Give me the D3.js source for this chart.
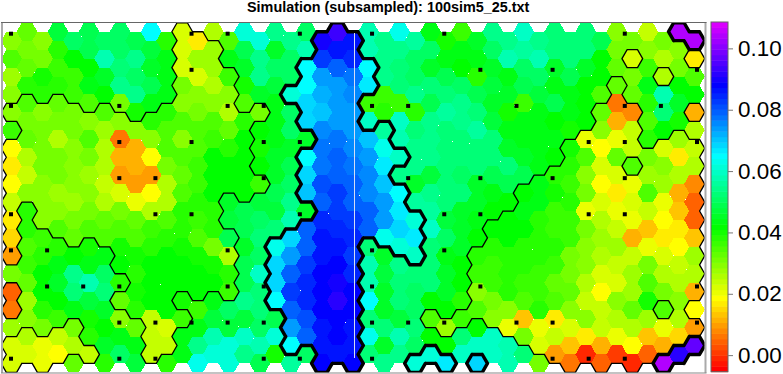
<!DOCTYPE html>
<html>
<head>
<meta charset="utf-8">
<script src="https://cdn.jsdelivr.net/npm/d3@7"></script>
<style>
html, body { margin: 0; padding: 0; background: #fff; overflow: hidden; }
svg { display: block; font-family: "Liberation Sans", Arial, sans-serif; }
</style>
</head>
<body>
<div id="chart"></div>
<script>
const title = 'Simulation (subsampled): 100sim5_25.txt';

// cell values x 1000, one array per hex row, 45 columns
const row00 = [30,33,30,48,50,49,50,51,49,65,38,22,16,26,35,61,62,55,54,50,90,93,86,58,54,63,56,44,40,36,45,54,54,59,54,53,52,52,49,29,31,24,31,104,104];
const row01 = [34,31,31,38,41,49,57,51,54,48,43,22,27,28,43,49,55,46,50,57,82,87,84,58,54,54,50,50,44,44,44,50,57,56,58,53,53,53,42,32,23,30,26,30,17];
const row02 = [27,33,40,37,36,42,46,52,51,46,44,22,23,27,36,46,54,50,50,65,74,80,78,65,54,53,50,46,49,41,39,45,43,50,50,46,49,46,42,33,32,37,25,32,34];
const row03 = [30,38,39,39,36,44,42,54,54,49,43,32,29,26,30,40,45,47,61,65,72,74,75,66,36,53,54,52,52,50,49,48,46,49,47,43,43,42,35,33,33,43,57,42,41];
const row04 = [30,34,30,33,31,35,34,31,40,44,38,29,32,30,25,34,32,43,50,68,71,73,73,36,38,37,39,49,56,54,52,46,40,37,44,49,43,41,33,7,8,39,52,45,11];
const row05 = [37,32,31,32,32,29,27,29,30,38,35,35,35,34,33,39,41,44,50,68,76,73,74,60,56,60,53,54,52,54,56,48,43,43,43,42,40,41,29,11,24,34,41,40,26];
const row06 = [19,33,31,25,30,34,26,7,12,29,35,29,34,36,39,41,40,43,46,45,77,78,75,70,64,57,55,55,53,53,53,52,46,44,43,43,40,21,19,20,24,38,22,27,24];
const row07 = [17,25,31,32,29,31,26,11,11,18,32,34,36,41,41,41,42,45,49,65,78,80,78,73,66,60,54,55,53,52,52,52,53,46,44,41,38,34,23,33,34,32,29,16,26];
const row08 = [18,24,29,31,30,27,24,9,10,9,26,33,36,41,41,42,36,45,50,68,81,79,80,75,71,55,46,47,52,50,45,49,49,49,43,39,36,30,19,23,20,28,27,25,8];
const row09 = [24,29,29,27,28,29,26,22,21,19,26,34,39,41,46,42,47,49,54,70,80,82,80,76,74,65,56,55,52,52,45,44,41,41,43,40,38,32,23,17,22,34,21,12,4];
const row10 = [16,38,30,30,31,31,33,32,33,25,35,39,36,38,48,49,50,48,57,46,84,82,83,80,74,67,62,56,48,46,43,41,41,43,39,36,36,21,25,21,20,24,19,13,4];
const row11 = [15,39,37,35,33,34,35,34,35,37,38,39,35,38,49,49,53,53,68,79,87,85,84,79,63,68,66,60,50,46,41,42,41,41,39,37,36,31,28,24,12,13,16,17,14];
const row12 = [10,34,38,39,41,40,44,40,40,38,41,40,40,32,26,46,51,64,74,79,87,87,83,53,46,61,60,53,44,46,38,38,39,39,39,38,32,29,25,27,24,21,23,18,27];
const row13 = [32,36,42,44,54,44,51,41,39,41,41,42,41,40,39,49,59,69,79,83,88,88,85,58,48,54,53,52,46,42,36,37,39,38,37,36,31,29,22,24,27,32,26,24,26];
const row14 = [5,33,42,45,53,57,52,38,40,41,41,41,41,41,36,49,53,68,83,85,88,90,88,58,46,52,50,52,46,41,29,36,39,36,36,33,33,25,19,23,27,34,32,25,12];
const row15 = [7,28,39,42,43,48,45,33,38,41,41,40,37,44,50,55,52,65,79,85,88,91,88,65,46,53,50,42,42,39,35,32,30,35,39,34,29,24,24,29,33,40,34,30,18];
const row16 = [28,29,31,36,31,40,42,30,33,24,22,36,44,47,48,48,51,49,73,81,87,88,86,53,52,48,52,34,28,36,42,29,21,13,21,16,22,30,24,25,26,28,20,25,9];
const row17 = [23,25,21,24,25,38,46,44,44,24,24,43,55,57,61,60,57,61,65,80,87,88,86,64,46,57,51,41,42,52,60,59,57,32,23,24,13,17,12,20,18,14,11,15,97];
const row18 = [22,23,20,18,33,24,38,51,48,24,38,44,64,62,61,54,49,40,56,50,88,87,88,53,54,55,62,62,67,59,68,60,58,53,31,9,7,-1,4,0,-1,4,105,91,null];
const rows = [row00,row01,row02,row03,row04,row05,row06,row07,row08,row09,row10,row11,row12,row13,row14,row15,row16,row17,row18];

// contour membership: column -> [first row, last row] spans
const lowCells = {
  0: [[4,4],[6,12],[14,15],[17,18]], 1: [[4,9],[17,18]], 2: [[4,10],[17,18]], 3: [[4,11],[17,18]],
  4: [[4,11],[16,17]], 5: [[5,11],[18,18]], 6: [[4,11]], 7: [[5,13],[15,15]], 8: [[5,15]], 9: [[5,18]],
  10: [[4,17]], 11: [[0,14],[16,16]], 12: [[0,14]], 13: [[1,14]], 14: [[2,8],[11,14]], 15: [[5,9]], 16: [[4,4],[8,8]],
  27: [[16,16]], 28: [[16,16]], 29: [[16,16]], 30: [[12,15]], 31: [[11,16]], 32: [[10,16]], 33: [[9,17]], 34: [[8,17]],
  35: [[8,18]], 36: [[6,18]], 37: [[6,18]], 38: [[4,18]], 39: [[3,18]], 40: [[1,1],[4,6],[8,18]], 41: [[7,18]],
  42: [[2,2],[6,14],[16,17]], 43: [[6,17]], 44: [[1,1],[4,4],[6,14],[16,16]]
};
const highCells = {
  17: [[12,15]], 18: [[3,3],[11,17]], 19: [[2,5],[7,9],[11,17]], 20: [[0,18]], 21: [[0,18]], 22: [[0,18]],
  23: [[2,3],[6,11]], 24: [[5,11]], 25: [[7,7],[9,12]], 26: [[10,12],[18,18]], 27: [[18,18]], 28: [[18,18]],
  30: [[18,18]], 42: [[18,18]], 43: [[0,0],[18,18]], 44: [[0,0],[17,17]]
};

// sample points, column indices on a regular 20 x 10 lattice, one array per lattice row
const dotRows = [
  [0,5,6,8,10,12,17],
  [5,13,15,19],
  [0,3,6,7,10,11,14,17,18],
  [3,5,7,8,16,17,19],
  [3,4,7,11,13,15,17],
  [0,4,5,8,12,13,16,17],
  [0,1,6,10,12],
  [1,2,3,6,7,10,13,19],
  [3,4,5,6,7,10,11,12,14,15,19],
  [0,3,4,7,8,10,15,16,17]
];

const legendTicks = [0, 0.02, 0.04, 0.06, 0.08, 0.10];

const width = 783, height = 374;
const plot = { left: 1.5, right: 704.8, top: 22.7, bottom: 372.8 };
const legend = { left: 711, right: 728, top: 22, bottom: 371.7 };
const hexR = 10.35;
const nBands = 64;

const x = d3.scaleLinear().domain([0, 44]).range([11.5, 694.4]);
// odd columns sit half a row higher
const y = (c, j) => (c % 2 ? 31.7 : 40.7) + 17.93 * j;
const dotX = d3.scaleLinear().domain([0, 19]).range([11, 697]);
const dotY = d3.scaleLinear().domain([0, 9]).range([33.7, 358.7]);
const legendY = d3.scaleLinear().domain([-0.0054, 0.1086]).range([legend.bottom, legend.top]);

// rainbow, red up to violet
const bandColors = d3.range(nBands).map(i => d3.hsl(i / (nBands - 1) * 291, 1, 0.5).formatHex());
const color = d3.scaleQuantize().domain(legendY.domain()).range(bandColors);

const svg = d3.select('#chart').append('svg')
  .attr('width', width)
  .attr('height', height);

svg.append('text')
  .attr('x', 247)
  .attr('y', 11.5)
  .attr('font-size', 14.4)
  .attr('font-weight', 'bold')
  .text(title);

svg.append('clipPath').attr('id', 'plot-clip').append('rect')
  .attr('x', plot.left)
  .attr('y', plot.top)
  .attr('width', plot.right - plot.left)
  .attr('height', plot.bottom - plot.top);

const g = svg.append('g').attr('clip-path', 'url(#plot-clip)');

const cells = [];
rows.forEach((row, j) => row.forEach((v, c) => {
  if (v !== null) cells.push({ c, j, v: v / 1000 });
}));

// corners clockwise from the left one
const corners = (c, j) => {
  const cx = x(c), cy = y(c, j), h = hexR * Math.sqrt(3) / 2;
  return [
    [cx - hexR, cy], [cx - hexR / 2, cy - h], [cx + hexR / 2, cy - h],
    [cx + hexR, cy], [cx + hexR / 2, cy + h], [cx - hexR / 2, cy + h]
  ];
};

g.append('g').selectAll('path')
  .data(cells)
  .enter().append('path')
  .attr('d', d => 'M' + corners(d.c, d.j).join('L') + 'Z')
  .attr('fill', d => color(d.v))
  .attr('shape-rendering', 'crispEdges');

// neighbour across each corner pair, same order as corners()
const neighbours = (c, j) => {
  const up = c % 2 ? j - 1 : j, down = up + 1;
  return [[c - 1, up], [c, j - 1], [c + 1, up], [c + 1, down], [c, j + 1], [c - 1, down]];
};

const toSet = spans => {
  const s = new Set();
  Object.entries(spans).forEach(([c, list]) => list.forEach(([a, b]) => {
    d3.range(a, b + 1).forEach(j => s.add(c + ':' + j));
  }));
  return s;
};

const outline = spans => {
  const members = toSet(spans);
  let d = '';
  members.forEach(key => {
    const [c, j] = key.split(':').map(Number);
    const pts = corners(c, j);
    neighbours(c, j).forEach((n, i) => {
      if (!members.has(n[0] + ':' + n[1])) {
        d += 'M' + pts[i] + 'L' + pts[(i + 1) % 6];
      }
    });
  });
  return d;
};

g.append('path')
  .attr('d', outline(lowCells))
  .attr('fill', 'none')
  .attr('stroke', '#000')
  .attr('stroke-width', 1.3)
  .attr('stroke-linecap', 'round');

g.append('path')
  .attr('d', outline(highCells))
  .attr('fill', 'none')
  .attr('stroke', '#000')
  .attr('stroke-width', 3.4)
  .attr('stroke-linecap', 'round');

// Sample points
const dots = dotRows.flatMap((list, k) => list.map(i => ({ i, k })));
g.append('g').selectAll('rect')
  .data(dots)
  .enter().append('rect')
  .attr('x', d => dotX(d.i) - 2)
  .attr('y', d => dotY(d.k) - 2)
  .attr('width', 4)
  .attr('height', 4)
  .attr('fill', '#000');

// Centre line
svg.append('line')
  .attr('x1', 354.5).attr('x2', 354.5)
  .attr('y1', 33).attr('y2', 358)
  .attr('stroke', '#d4dcf4')
  .attr('stroke-width', 1);

// Plot frame
svg.append('line').attr('x1', 2).attr('x2', 2).attr('y1', 22).attr('y2', 373).attr('stroke', '#aaa').attr('stroke-width', 2);
svg.append('line').attr('x1', 705.5).attr('x2', 705.5).attr('y1', 22).attr('y2', 373).attr('stroke', '#aaa').attr('stroke-width', 2);
svg.append('line').attr('x1', 1).attr('x2', 706.5).attr('y1', 22.5).attr('y2', 22.5).attr('stroke', '#666').attr('stroke-width', 1.2);
svg.append('line').attr('x1', 1).attr('x2', 706.5).attr('y1', 373).attr('y2', 373).attr('stroke', '#888').attr('stroke-width', 1.2);

// Colour bar
const bandH = (legend.bottom - legend.top) / nBands;
svg.append('g').selectAll('rect')
  .data(bandColors)
  .enter().append('rect')
  .attr('x', legend.left)
  .attr('width', legend.right - legend.left)
  .attr('y', (d, i) => legend.bottom - (i + 1) * bandH)
  .attr('height', bandH + 0.5)
  .attr('fill', d => d);

svg.append('rect')
  .attr('x', legend.left)
  .attr('y', legend.top)
  .attr('width', legend.right - legend.left)
  .attr('height', legend.bottom - legend.top)
  .attr('fill', 'none')
  .attr('stroke', '#666')
  .attr('stroke-width', 1);

const legendAxis = d3.axisRight(legendY)
  .tickValues(legendTicks)
  .tickFormat(d3.format('.2f'))
  .tickSize(5)
  .tickPadding(5);

const axisG = svg.append('g')
  .attr('transform', `translate(${legend.right},0)`)
  .call(legendAxis);
axisG.select('.domain').remove();
axisG.selectAll('line').attr('stroke', '#777');
axisG.selectAll('text')
  .attr('font-family', '"Liberation Sans", Arial, sans-serif')
  .attr('font-size', 22.4)
  .attr('fill', '#000');
</script>
</body>
</html>
